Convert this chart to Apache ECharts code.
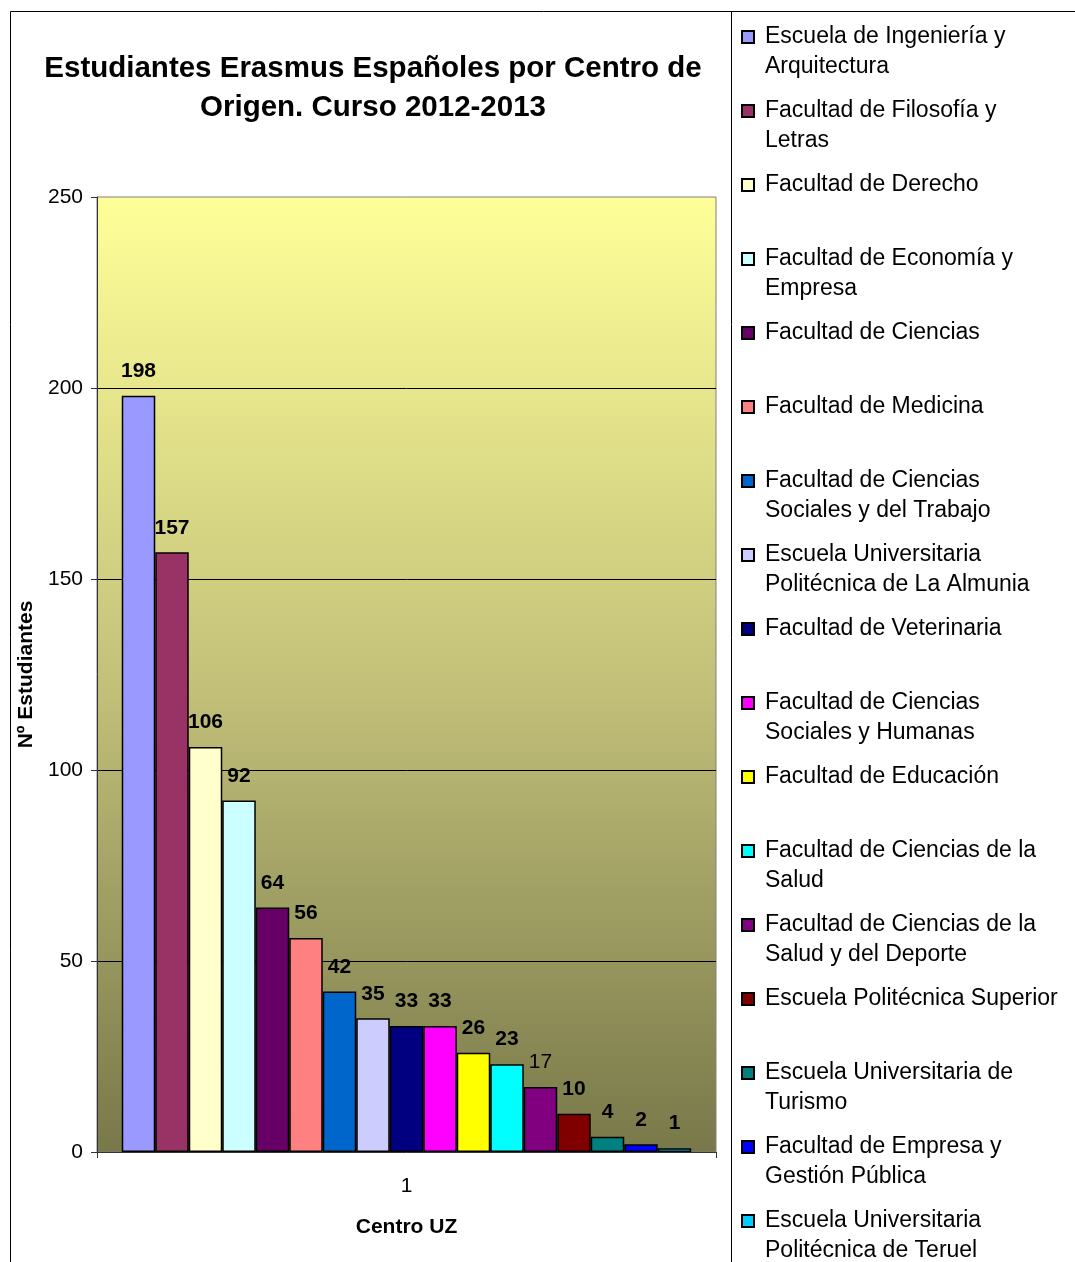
<!DOCTYPE html>
<html>
<head>
<meta charset="utf-8">
<title>Estudiantes Erasmus</title>
<script src="https://cdn.jsdelivr.net/npm/echarts@6/dist/echarts.min.js"></script>
<style>
  html, body { margin: 0; padding: 0; background: #fff; }
  #chart { width: 1075px; height: 1262px; }
</style>
</head>
<body>
<div id="chart"></div>
<script>
// centros de origen, en el orden de la leyenda
const centros = [
  'Escuela de Ingeniería y\nArquitectura',
  'Facultad de Filosofía y\nLetras',
  'Facultad de Derecho',
  'Facultad de Economía y\nEmpresa',
  'Facultad de Ciencias',
  'Facultad de Medicina',
  'Facultad de Ciencias\nSociales y del Trabajo',
  'Escuela Universitaria\nPolitécnica de La Almunia',
  'Facultad de Veterinaria',
  'Facultad de Ciencias\nSociales y Humanas',
  'Facultad de Educación',
  'Facultad de Ciencias de la\nSalud',
  'Facultad de Ciencias de la\nSalud y del Deporte',
  'Escuela Politécnica Superior',
  'Escuela Universitaria de\nTurismo',
  'Facultad de Empresa y\nGestión Pública',
  'Escuela Universitaria\nPolitécnica de Teruel'
];
const estudiantes = [198, 157, 106, 92, 64, 56, 42, 35, 33, 33, 26, 23, 17, 10, 4, 2, 1];
const colores = [
  '#9999FF', '#993366', '#FFFFCC', '#CCFFFF', '#660066', '#FF8080',
  '#0066CC', '#CCCCFF', '#000080', '#FF00FF', '#FFFF00', '#00FFFF',
  '#800080', '#800000', '#008080', '#0000FF', '#00CCFF'
];
const categorias = ['1'];
const yTicks = [0, 50, 100, 150, 200, 250];

const FONT = 'Liberation Sans, Arial, sans-serif';

let chart = echarts.init(document.getElementById('chart'));

let series = centros.map((nombre, i) => ({
  name: nombre,
  type: 'bar',
  data: [estudiantes[i]],
  barGap: '0%',
  barCategoryGap: '8%',
  itemStyle: { color: colores[i], borderColor: '#000', borderWidth: 1.5 },
  label: {
    show: true,
    position: 'top',
    distance: 14,
    color: '#000',
    fontFamily: FONT,
    fontSize: 21,
    // el 17 aparece sin negrita en el original
    fontWeight: estudiantes[i] === 17 ? 'normal' : 'bold'
  }
}));

chart.setOption({
  animation: false,
  backgroundColor: '#fff',
  title: {
    text: 'Estudiantes Erasmus Españoles por Centro de\nOrigen. Curso 2012-2013',
    left: 373,
    top: 49,
    padding: 0,
    textAlign: 'center',
    textVerticalAlign: 'top',
    textStyle: { fontFamily: FONT, fontSize: 29.5, fontWeight: 'bold', color: '#000', lineHeight: 39 }
  },
  legend: {
    orient: 'vertical',
    left: 741,
    top: -8,
    height: 1500,
    padding: 0,
    itemGap: -16,
    itemWidth: 12,
    itemHeight: 12,
    icon: 'rect',
    selectedMode: false,
    // tres lineas por entrada (la primera vacia) para que el cuadro quede
    // a la altura de la primera linea del texto
    formatter: name => {
      let partes = name.split('\n');
      return ' \n' + partes[0] + '\n' + (partes[1] || ' ');
    },
    textStyle: {
      fontFamily: FONT,
      fontSize: 23,
      lineHeight: 30,
      color: '#000',
      padding: [0, 0, 0, 6],
      backgroundColor: 'transparent'
    }
  },
  graphic: [
    { type: 'rect', silent: true, shape: { x: 10.5, y: 11.5, width: 1200, height: 1400 },
      style: { fill: 'none', stroke: '#000', lineWidth: 1 } },
    { type: 'rect', silent: true, shape: { x: 731.5, y: 11.5, width: 500, height: 1400 },
      style: { fill: 'none', stroke: '#000', lineWidth: 1 } }
  ],
  grid: {
    left: 97,
    right: 359,
    top: 197,
    bottom: 110,
    show: true,
    borderColor: '#808080',
    borderWidth: 1,
    backgroundColor: new echarts.graphic.LinearGradient(0, 0, 0, 1, [
      { offset: 0, color: '#FFFF99' },
      { offset: 0.5, color: '#C4C27A' },
      { offset: 1, color: '#78784A' }
    ])
  },
  xAxis: {
    type: 'category',
    data: categorias,
    name: 'Centro UZ',
    nameLocation: 'middle',
    nameGap: 65,
    nameTextStyle: { fontFamily: FONT, fontSize: 21, fontWeight: 'bold', color: '#000' },
    axisLine: { lineStyle: { color: '#333', width: 1 } },
    axisTick: { show: true, length: 6, lineStyle: { color: '#333' } },
    axisLabel: { margin: 24, fontFamily: FONT, fontSize: 21, color: '#000' }
  },
  yAxis: {
    type: 'value',
    min: yTicks[0],
    max: yTicks[yTicks.length - 1],
    interval: 50,
    name: 'Nº Estudiantes',
    nameLocation: 'middle',
    nameGap: 57,
    nameTextStyle: { fontFamily: FONT, fontSize: 21, fontWeight: 'bold', color: '#000' },
    axisLine: { show: true, lineStyle: { color: '#333', width: 1 } },
    axisTick: { show: true, length: 6, lineStyle: { color: '#333' } },
    axisLabel: { margin: 14, fontFamily: FONT, fontSize: 21, color: '#000' },
    splitLine: { show: true, showMinLine: false, showMaxLine: false, lineStyle: { color: '#000', width: 1 } }
  },
  series: series
});
</script>
</body>
</html>
